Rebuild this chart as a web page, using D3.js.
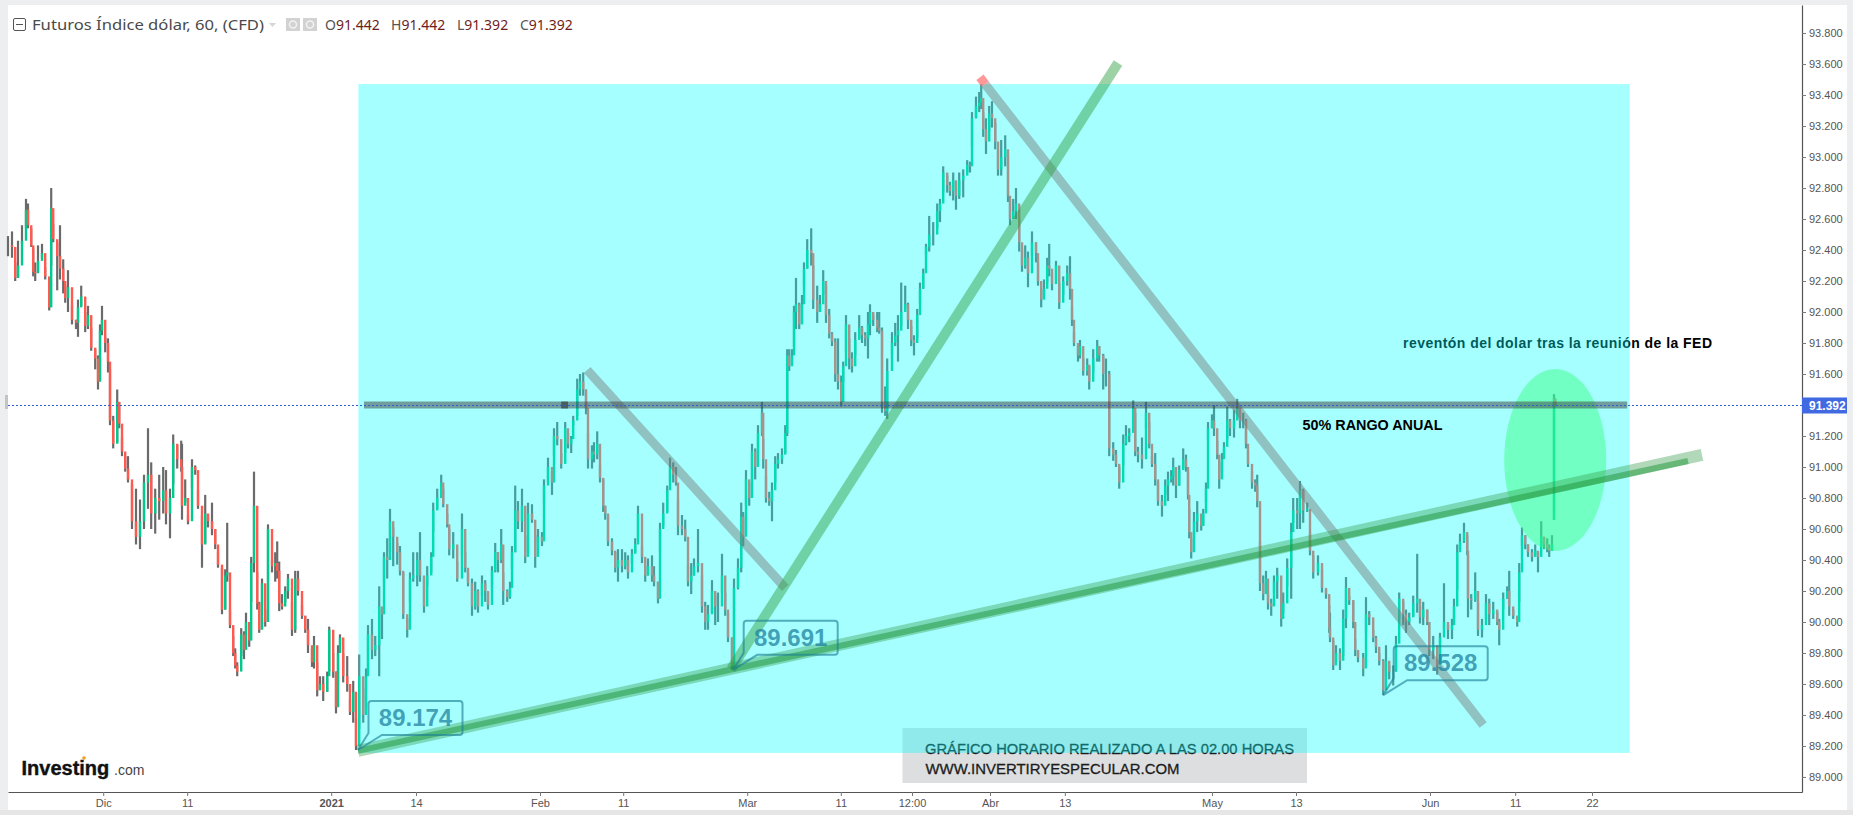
<!DOCTYPE html>
<html>
<head>
<meta charset="utf-8">
<script src="https://cdn.jsdelivr.net/npm/d3@7"></script>
<style>
  html, body { margin: 0; padding: 0; background: #fff; overflow: hidden; }
  text { font-family: "Liberation Sans", Arial, sans-serif; }
</style>
</head>
<body>
<div id="chart"></div>
<script>
// hourly bars: [hour, high, low, close]
const novBars = [
[0,92.49,92.36,92.43],[10,92.52,92.35,92.42],[18,92.32,92.20,92.22],[25,92.46,92.22,92.30],[35,92.56,92.44,92.46],
[45,92.73,92.54,92.66],[50,92.70,92.54,92.56],[58,92.54,92.42,92.43],[63,92.41,92.23,92.26],[68,92.32,92.20,92.25],
[75,92.43,92.26,92.33],[85,92.44,92.35,92.38],[93,92.29,92.21,92.23],[103,92.09,92.01,92.03],[108,92.80,92.30,92.67],
[113,92.57,92.45,92.47],[123,92.45,92.14,92.36],[130,92.56,92.21,92.28],[138,92.34,92.12,92.20],[143,92.17,92.06,92.09],
[150,92.27,92.00,92.16],[160,92.04,91.92,91.95],[170,91.95,91.89,91.93],[175,92.08,91.84,92.03],[183,92.17,92.04,92.10],
[193,92.00,91.87,91.91],[200,92.04,91.89,91.98],[208,91.90,91.75,91.77],[218,91.76,91.63,91.70],[225,91.72,91.50,91.55],
[230,91.92,91.57,91.88],[235,92.04,91.85,91.95]];
const decBars = [
[243,91.84,91.74,91.80],[250,91.83,91.61,91.68],[255,91.63,91.27,91.30],[263,91.33,91.12,91.15],[273,91.50,91.16,91.42],
[278,91.42,91.25,91.28],[285,91.19,91.07,91.10],[293,91.07,90.97,90.99],[300,91.07,90.90,90.92],[310,90.89,90.60,90.65],
[320,90.86,90.50,90.55],[330,90.79,90.47,90.65],[340,90.95,90.60,90.90],[350,91.25,90.73,90.95],[358,91.03,90.60,90.70],
[368,90.86,90.57,90.80],[378,90.95,90.66,90.78],[388,91.00,90.70,90.85],[395,90.98,90.63,90.70],[405,90.86,90.54,90.80],
[413,91.21,90.89,91.15],[423,91.14,90.99,91.05],[433,91.17,90.97,91.00],[435,91.15,90.66,90.75],[443,90.92,90.77,90.80],
[450,90.69,90.63,90.65],[460,91.05,90.86,91.00],[468,91.01,90.95,90.98],[475,90.85,90.73,90.75],[485,90.69,90.35,90.50],
[493,90.82,90.51,90.70],[500,90.68,90.61,90.65],[510,90.77,90.56,90.60],[518,90.60,90.47,90.50],[525,90.45,90.35,90.37],
[535,90.35,90.05,90.08],[543,90.34,90.08,90.30],[548,90.64,90.26,90.32],[555,90.08,89.96,89.98],[563,89.91,89.78,89.80],
[568,89.83,89.70,89.72],[573,89.74,89.65,89.68],[583,89.96,89.78,89.92],[590,89.94,89.76,89.82],[595,90.06,89.91,90.00],
[603,89.98,89.84,89.88],[608,90.42,90.13,90.38],[615,90.97,90.32,90.75],[623,90.32,90.08,90.12],[628,90.13,89.93,89.95],
[635,90.28,90.11,90.25],[643,90.08,89.97,90.00],[650,90.63,90.26,90.60],[660,90.40,90.32,90.36],[668,90.45,90.26,90.38],
[673,90.52,90.28,90.33],[678,90.39,90.07,90.12],[685,90.18,90.08,90.10],[693,90.23,90.13,90.20],[700,90.31,90.15,90.28],
[710,90.13,89.91,89.95],[718,90.33,89.93,90.28],[725,90.33,90.17,90.20],[735,90.11,90.02,90.04],[743,90.04,89.93,89.95],
[750,90.02,89.80,89.85],[760,89.83,89.71,89.74],[765,89.91,89.70,89.85],[773,89.74,89.52,89.56],[780,89.65,89.56,89.60],
[788,89.65,89.49,89.55],[798,89.68,89.55,89.65],[803,89.97,89.68,89.95]];
const janBars = [
[813,89.80,89.64,89.68],[820,89.68,89.41,89.45],[825,89.85,89.59,89.80],[830,89.92,89.85,89.90],[838,89.80,89.61,89.65],
[848,89.78,89.55,89.60],[855,89.50,89.40,89.42],[863,89.62,89.35,89.55],[870,89.38,89.174,89.20],[878,89.79,89.31,89.65],
[888,89.57,89.35,89.40],[895,89.70,89.46,89.65],[900,89.98,89.68,89.92],[910,90.02,89.76,89.82],[918,89.91,89.78,89.85],
[928,90.23,89.65,90.10],[935,90.08,89.89,90.05],[940,90.45,90.26,90.42],[948,90.54,90.28,90.40],[955,90.73,90.45,90.65],
[963,90.61,90.36,90.55],[973,90.51,90.37,90.45],[980,90.49,90.30,90.33],[988,90.32,90.02,90.05],[998,90.02,89.90,89.95],
[1005,90.32,90.13,90.28],[1013,90.45,90.26,90.30],[1023,90.45,90.23,90.40],[1030,90.58,90.26,90.30],[1040,90.28,90.06,90.10],
[1048,90.36,90.23,90.30],[1058,90.45,90.32,90.42],[1063,90.77,90.58,90.72],[1073,90.86,90.73,90.80],[1083,90.95,90.82,90.90],
[1088,90.86,90.74,90.76],[1098,90.70,90.61,90.63],[1103,90.60,90.43,90.47],[1113,90.58,90.41,90.50],[1123,90.39,90.26,90.28],
[1135,90.70,90.43,90.60],[1143,90.45,90.32,90.35],[1150,90.32,90.23,90.25],[1160,90.28,90.04,90.10],[1168,90.26,90.08,90.20],
[1175,90.21,90.06,90.10],[1185,90.30,90.17,90.25],[1193,90.27,90.13,90.20],[1200,90.19,90.08,90.11],[1210,90.36,90.23,90.33],
[1218,90.51,90.32,90.45],[1225,90.45,90.32,90.40],[1233,90.60,90.38,90.50],[1238,90.32,90.11,90.20],[1248,90.21,90.13,90.16],
[1255,90.26,90.15,90.22],[1260,90.49,90.34,90.45],[1268,90.88,90.45,90.72],[1275,90.78,90.60,90.65],[1285,90.86,90.58,90.75],
[1293,90.56,90.38,90.42],[1300,90.77,90.45,90.70],[1310,90.76,90.64,90.66],[1318,90.56,90.35,90.42],[1325,90.60,90.51,90.55]];
const febBars = [
[1335,90.58,90.49,90.52],[1340,90.92,90.77,90.88],[1350,91.06,90.90,91.00],[1360,90.97,90.82,90.90],[1365,91.25,91.07,91.20],
[1373,91.29,91.14,91.18],[1383,91.09,90.99,91.02],[1393,91.29,91.09,91.25],[1400,91.22,91.12,91.15],[1408,91.20,91.09,91.18],
[1413,91.33,91.27,91.30],[1423,91.57,91.33,91.50],[1430,91.60,91.46,91.55],[1438,91.61,91.46,91.50],[1445,91.50,91.34,91.38],
[1450,91.22,90.99,91.05],[1460,91.14,90.99,91.10],[1465,91.16,91.03,91.08],[1473,91.23,91.05,91.15],[1480,91.01,90.90,90.93],
[1488,90.92,90.71,90.75],[1493,90.75,90.66,90.70],[1500,90.69,90.49,90.52],[1510,90.54,90.43,90.46],[1518,90.45,90.32,90.35],
[1525,90.47,90.26,90.40],[1535,90.47,90.32,90.36],[1543,90.45,90.34,90.40],[1550,90.43,90.28,90.32],[1560,90.47,90.38,90.44],
[1568,90.54,90.45,90.50],[1575,90.75,90.54,90.70],[1585,90.49,90.38,90.42],[1593,90.36,90.26,90.30],[1600,90.41,90.30,90.36],
[1610,90.43,90.26,90.30],[1615,90.36,90.23,90.26],[1625,90.26,90.12,90.15],[1630,90.64,90.45,90.60],[1638,90.77,90.62,90.70],
[1648,90.88,90.71,90.85],[1655,91.06,90.90,91.00],[1663,91.03,90.90,90.95],[1670,91.00,90.88,90.90],[1675,90.79,90.56,90.62],
[1685,90.69,90.56,90.60],[1693,90.66,90.52,90.55],[1700,90.36,90.23,90.26],[1708,90.38,90.18,90.30],[1715,90.41,90.30,90.36],
[1725,90.60,90.32,90.38],[1735,90.30,90.06,90.10],[1743,90.13,89.95,90.00],[1750,90.11,89.95,90.05],[1760,90.27,90.06,90.20],
[1768,90.17,89.98,90.10],[1775,90.19,90.00,90.10],[1785,90.44,90.19,90.30],[1793,90.19,90.04,90.08],[1800,90.06,89.87,89.90],
[1810,89.90,89.691,89.72],[1815,90.28,89.70,90.22],[1825,90.41,90.21,90.35],[1833,90.77,90.32,90.68],[1838,90.71,90.49,90.55],
[1845,90.98,90.75,90.92]];
const marBars = [
[1853,90.90,90.75,90.80],[1860,91.15,90.92,91.10],[1868,91.12,90.92,91.00],[1875,91.27,91.09,91.22],[1885,91.42,91.20,91.35],
[1888,91.18,90.99,91.05],[1895,90.94,90.77,90.80],[1903,90.84,90.75,90.78],[1910,90.90,90.65,90.85],[1918,91.07,90.90,91.02],
[1925,91.09,90.99,91.05],[1935,91.12,91.02,91.08],[1943,91.27,91.09,91.22],[1948,91.76,91.20,91.72],[1953,91.76,91.62,91.65],
[1960,91.76,91.68,91.72],[1965,92.04,91.78,92.00],[1970,92.22,91.89,92.05],[1978,92.06,91.89,91.92],[1985,92.11,92.02,92.05],
[1990,92.32,92.17,92.28],[1998,92.47,92.28,92.40],[2008,92.54,92.30,92.38],[2013,92.30,92.02,92.08],[2023,92.17,91.93,92.00],
[2030,92.11,92.00,92.05],[2038,92.27,92.11,92.20],[2045,92.17,91.93,91.98],[2053,92.02,91.83,91.86],[2060,91.87,91.78,91.81],
[2068,91.83,91.55,91.60],[2075,91.83,91.50,91.55],[2083,91.59,91.39,91.42],[2088,91.68,91.55,91.65],[2095,91.98,91.74,91.92],
[2103,91.83,91.63,91.70],[2110,91.74,91.61,91.65],[2118,91.87,91.72,91.82],[2128,91.98,91.83,91.90],[2135,91.91,91.80,91.85],
[2143,91.87,91.78,91.83],[2150,92.00,91.70,91.92],[2155,92.05,91.85,92.00],[2163,91.98,91.91,91.95],[2173,92.00,91.87,91.90],
[2178,92.00,91.86,91.88],[2185,91.90,91.35,91.42],[2193,91.52,91.33,91.36],[2198,91.70,91.31,91.62],[2210,91.87,91.72,91.80],
[2218,91.93,91.78,91.85],[2225,91.98,91.68,91.88],[2233,92.19,91.91,92.00],[2243,92.17,92.02,92.05],[2250,92.06,91.89,91.95],
[2258,91.91,91.78,91.82],[2265,91.85,91.72,91.80],[2273,92.02,91.83,91.98],[2280,92.19,92.06,92.15],[2288,92.28,92.15,92.25],
[2295,92.44,92.37,92.42],[2303,92.62,92.39,92.50],[2313,92.58,92.43,92.50],[2323,92.70,92.54,92.65],[2330,92.73,92.58,92.70],
[2338,92.94,92.77,92.90],[2348,92.88,92.77,92.82],[2355,92.84,92.75,92.78],[2363,92.90,92.72,92.85],[2370,92.84,92.66,92.75],
[2378,92.90,92.73,92.85],[2388,92.92,92.74,92.88],[2398,92.98,92.90,92.95],[2405,92.97,92.90,92.94],[2410,93.29,93.07,93.25],
[2420,93.39,93.25,93.33],[2428,93.42,93.29,93.35],[2433,93.47,93.31,93.38],[2438,93.29,93.13,93.18],[2445,93.25,93.02,93.10],
[2453,93.33,93.17,93.28]];
const aprBars = [
[2460,93.36,93.19,93.25],[2468,93.22,93.05,93.10],[2475,93.05,92.88,92.92],[2483,93.11,92.88,93.00],[2493,93.14,92.94,93.05],
[2500,93.01,92.71,92.75],[2505,92.71,92.56,92.60],[2513,92.73,92.60,92.65],[2520,92.80,92.60,92.70],[2528,92.60,92.39,92.45],
[2535,92.41,92.26,92.30],[2543,92.43,92.28,92.35],[2550,92.39,92.16,92.25],[2560,92.52,92.36,92.45],[2570,92.45,92.32,92.38],
[2575,92.32,92.17,92.20],[2583,92.15,92.03,92.08],[2590,92.21,92.11,92.15],[2598,92.35,92.19,92.30],[2603,92.44,92.23,92.28],
[2610,92.26,92.14,92.18],[2620,92.33,92.21,92.30],[2628,92.19,92.02,92.06],[2638,92.23,92.11,92.20],[2648,92.30,92.17,92.25],
[2655,92.36,92.08,92.15],[2660,92.04,91.91,91.95],[2665,91.87,91.78,91.80],[2675,91.78,91.68,91.72],[2680,91.82,91.70,91.78],
[2688,91.70,91.59,91.62],[2698,91.70,91.59,91.66],[2703,91.65,91.50,91.55],[2713,91.76,91.61,91.70],[2723,91.82,91.68,91.78],
[2728,91.78,91.68,91.72],[2738,91.73,91.50,91.60],[2745,91.70,91.52,91.60],[2753,91.62,91.07,91.12],[2763,91.16,91.04,91.08],
[2770,91.11,91.00,91.02],[2778,91.00,90.86,90.90],[2788,91.21,91.01,91.15],[2795,91.27,91.14,91.20],[2803,91.25,91.16,91.22],
[2813,91.43,91.30,91.38],[2818,91.35,91.07,91.10],[2825,91.13,91.03,91.08],[2835,91.19,90.99,91.05],[2845,91.42,91.25,91.35],
[2853,91.29,91.12,91.15],[2860,91.07,91.00,91.02],[2868,91.09,90.88,90.92],[2875,90.90,90.75,90.78],[2885,90.82,90.68,90.75],
[2893,90.92,90.82,90.88],[2900,90.97,90.78,90.92],[2908,90.98,90.90,90.94],[2913,91.06,90.88,91.00],[2920,90.97,90.80,90.88],
[2928,91.01,90.88,90.98],[2938,91.12,90.99,91.05],[2945,91.08,90.97,91.00],[2950,90.97,90.79,90.82],[2953,90.73,90.54,90.58],
[2958,90.54,90.41,90.45],[2965,90.71,90.54,90.65],[2973,90.78,90.58,90.70],[2983,90.66,90.59,90.62],[2988,90.73,90.62,90.70],
[2995,90.90,90.77,90.86],[3000,91.29,91.18,91.25]];
const mayBars = [
[3010,91.34,91.25,91.30],[3015,91.40,91.20,91.25],[3023,91.17,91.05,91.08],[3028,91.03,90.86,90.92],[3035,91.09,90.97,91.05],
[3040,91.16,91.07,91.13],[3048,91.39,91.18,91.30],[3055,91.31,91.20,91.25],[3065,91.37,91.19,91.30],[3073,91.44,91.31,91.38],
[3080,91.37,91.25,91.30],[3088,91.35,91.25,91.30],[3095,91.31,91.12,91.15],[3100,91.11,91.00,91.02],[3110,90.97,90.86,90.90],
[3118,90.92,90.84,90.88],[3123,90.95,90.74,90.78],[3130,90.52,90.20,90.25],[3138,90.30,90.14,90.18],[3145,90.33,90.19,90.28],
[3150,90.19,90.08,90.12],[3158,90.15,90.04,90.10],[3165,90.30,90.19,90.26],[3173,90.35,90.15,90.30],[3183,90.17,89.97,90.02],
[3188,90.19,90.06,90.12],[3198,90.41,90.23,90.35],[3208,90.64,90.15,90.58],[3213,90.80,90.64,90.72],[3223,90.80,90.60,90.70],
[3230,90.91,90.60,90.85],[3238,90.86,90.64,90.72],[3248,90.77,90.71,90.73],[3255,90.58,90.43,90.46],[3263,90.43,90.28,90.32],
[3275,90.43,90.30,90.38],[3285,90.34,90.19,90.22],[3295,90.21,90.15,90.18],[3303,90.11,89.93,89.96],[3305,90.06,89.87,89.90],
[3313,89.88,89.69,89.72],[3320,89.85,89.74,89.80],[3330,89.83,89.69,89.75],[3338,90.08,89.78,90.02],[3345,90.29,89.96,90.22],
[3353,90.17,90.11,90.14],[3363,90.14,89.96,90.00],[3368,89.89,89.78,89.82],[3375,89.81,89.74,89.77],[3388,89.80,89.65,89.70],
[3395,90.16,89.93,90.05],[3403,90.07,89.98,90.03],[3413,89.95,89.87,89.90],[3420,89.91,89.80,89.84],[3428,89.80,89.72,89.75],
[3438,89.76,89.528,89.56],[3445,89.85,89.65,89.75],[3453,89.72,89.63,89.68],[3463,89.72,89.59,89.68],[3470,89.91,89.68,89.86],
[3478,90.19,90.02,90.15],[3488,90.13,89.98,90.05],[3495,90.08,89.93,90.00],[3503,90.06,89.98,90.03],[3513,90.17,90.04,90.12],
[3523,90.44,90.06,90.15],[3530,90.10,89.99,90.03],[3538,90.13,89.98,90.08],[3548,90.08,89.98,90.00]];
const junBars = [
[3553,90.00,89.78,89.82],[3563,89.91,89.76,89.85],[3573,89.85,89.66,89.72],[3580,89.93,89.80,89.90],[3590,90.25,89.96,90.00],
[3600,89.98,89.89,89.95],[3610,90.02,89.89,89.98],[3615,90.15,89.98,90.10],[3623,90.50,90.21,90.45],[3630,90.57,90.47,90.52],
[3640,90.64,90.51,90.58],[3648,90.56,90.43,90.46],[3650,90.43,90.03,90.15],[3658,90.18,90.08,90.14],[3668,90.32,90.13,90.20],
[3675,90.13,89.91,89.95],[3685,90.02,89.90,89.98],[3695,90.18,90.02,90.12],[3703,90.15,89.98,90.05],[3713,90.13,90.02,90.08],
[3723,90.06,89.98,90.00],[3728,90.02,89.85,89.95],[3738,90.19,90.08,90.15],[3748,90.23,90.15,90.20],[3753,90.33,90.04,90.10],
[3763,90.08,90.02,90.04],[3773,90.04,89.97,90.00],[3778,90.38,90.13,90.32],[3785,90.61,90.49,90.56],[3793,90.56,90.47,90.50],
[3800,90.50,90.42,90.45],[3810,90.47,90.39,90.42],[3818,90.50,90.43,90.46],[3825,90.45,90.32,90.42],[3833,90.65,90.49,90.55],
[3840,90.55,90.47,90.50],[3848,90.54,90.45,90.48],[3853,90.50,90.42,90.46],[3860,90.56,90.46,90.50],[3865,91.47,90.66,91.44,90.66],
[3868,91.442,91.392,91.392]];

// axis labels
const yTickValues = [89.0,89.2,89.4,89.6,89.8,90.0,90.2,90.4,90.6,90.8,91.0,91.2,91.4,91.6,91.8,92.0,92.2,92.4,92.6,92.8,93.0,93.2,93.4,93.6,93.8];
const xTickHours = [238,448,808,1020,1330,1538,1848,2082,2260,2455,2642,3010,3220,3555,3768,3960];
const xTickLabels = ["Dic","11","2021","14","Feb","11","Mar","11","12:00","Abr","13","May","13","Jun","11","22"];
const lastPrice = 91.392;

// drawings on the chart: hours and prices of the end points
const rangeHours = [876, 4054];
const rangePrices = [89.155, 93.471];
const supportOuterHours = [875, 4235];
const supportOuterPrices = [89.168, 91.078];
const supportInnerHours = [875, 4200];
const supportInnerPrices = [89.168, 91.039];
const rallyHours = [1808, 2775];
const rallyPrices = [89.697, 93.607];
const fallAHours = [1448, 1943];
const fallAPrices = [91.626, 90.220];
const fallBHours = [2443, 3688];
const fallBPrices = [93.47, 89.336];
const fallBTipHours = [2430, 2443];
const fallBTipPrices = [93.515, 93.47];
const midHours = [890, 4048];
const midPrice = 91.40;
const midDarkHours = [1383, 1400];
const bubbleHours = [875, 1813, 3438];
const bubblePrices = [89.174, 89.691, 89.528];
const ohlc = [["O", "91.442"], ["H", "91.442"], ["L", "91.392"], ["C", "91.392"]];

const WIDTH = 1853;
const HEIGHT = 815;

const bars = [].concat(novBars, decBars, janBars, febBars, marBars, aprBars, mayBars, junBars)
  .map((r, i, all) => ({
    hour: r[0], high: r[1], low: r[2], close: r[3],
    open: r[4] !== undefined ? r[4] : (i > 0 ? all[i - 1][3] : r[3])
  }));

const x = d3.scaleLinear().domain([0, 4485]).range([8, 1802]);
const y = d3.scaleLinear().domain([88.903, 93.981]).range([792, 5]);

const svg = d3.select("#chart").append("svg")
  .attr("width", WIDTH)
  .attr("height", HEIGHT)
  .style("display", "block");

// window frame
svg.append("rect").attr("width", WIDTH).attr("height", HEIGHT).attr("fill", "#fff");
const frame = svg.append("g").attr("fill", "#eceef0");
frame.append("rect").attr("width", WIDTH).attr("height", 5);
frame.append("rect").attr("width", 8).attr("height", HEIGHT);
frame.append("rect").attr("x", 1847).attr("width", 6).attr("height", HEIGHT);
frame.append("rect").attr("y", 810).attr("width", WIDTH).attr("height", 5).attr("fill", "#e6e6e6");
svg.append("rect").attr("x", 5).attr("y", 395).attr("width", 3).attr("height", 14).attr("fill", "#c4c4c4");

// candles
const candles = svg.append("g");
candles.selectAll("line.wick").data(bars).enter().append("line")
  .attr("class", "wick")
  .attr("x1", d => x(d.hour)).attr("x2", d => x(d.hour))
  .attr("y1", d => y(d.high)).attr("y2", d => y(d.low))
  .attr("stroke", "#6a6a6a").attr("stroke-width", 2.2);
candles.selectAll("line.body").data(bars).enter().append("line")
  .attr("class", "body")
  .attr("x1", d => x(d.hour)).attr("x2", d => x(d.hour))
  .attr("y1", d => y(d.open)).attr("y2", d => y(d.close))
  .attr("stroke", d => d.close >= d.open ? "#00c98d" : "#ff5a50")
  .attr("stroke-width", 2.4);

// texts and grey box lie under the cyan range
svg.append("text").attr("x", 1403).attr("y", 347.5)
  .attr("textLength", 309).attr("lengthAdjust", "spacing")
  .style("font-size", "14px").style("font-weight", "bold").attr("fill", "#000")
  .text("reventón del dolar tras la reunión de la FED");
svg.append("rect").attr("x", 902.5).attr("y", 728).attr("width", 404.5).attr("height", 55).attr("fill", "#dddee0");
svg.append("text").attr("x", 925).attr("y", 754)
  .attr("textLength", 369).attr("lengthAdjust", "spacingAndGlyphs")
  .style("font-size", "15px").attr("fill", "#1c1c1c").attr("stroke", "#1c1c1c").attr("stroke-width", 0.3)
  .text("GRÁFICO HORARIO REALIZADO A LAS 02.00 HORAS");
svg.append("text").attr("x", 925.5).attr("y", 773.5)
  .attr("textLength", 254).attr("lengthAdjust", "spacingAndGlyphs")
  .style("font-size", "15px").attr("fill", "#1c1c1c").attr("stroke", "#1c1c1c").attr("stroke-width", 0.3)
  .text("WWW.INVERTIRYESPECULAR.COM");

// cyan yearly range
svg.append("rect")
  .attr("x", x(rangeHours[0])).attr("y", y(rangePrices[1]))
  .attr("width", x(rangeHours[1]) - x(rangeHours[0]))
  .attr("height", y(rangePrices[0]) - y(rangePrices[1]))
  .attr("fill", "rgba(0,255,255,0.35)");

// green circle round the last move
svg.append("ellipse")
  .attr("cx", x(3868)).attr("cy", y(91.045)).attr("rx", 51).attr("ry", 91)
  .attr("fill", "rgba(52,255,122,0.45)");

// trend lines
function trend(hours, prices, color, width) {
  svg.append("line")
    .attr("x1", x(hours[0])).attr("y1", y(prices[0]))
    .attr("x2", x(hours[1])).attr("y2", y(prices[1]))
    .attr("stroke", color).attr("stroke-width", width);
}
trend(fallAHours, fallAPrices, "rgba(120,120,120,0.45)", 9);
trend(fallBHours, fallBPrices, "rgba(120,120,120,0.45)", 9);
trend(fallBTipHours, fallBTipPrices, "rgba(255,110,110,0.7)", 9);
trend(rallyHours, rallyPrices, "rgba(50,160,70,0.48)", 10);
trend(supportOuterHours, supportOuterPrices, "rgba(50,155,70,0.38)", 12);
trend(supportInnerHours, supportInnerPrices, "rgba(30,150,55,0.5)", 6);
trend(midHours, [midPrice, midPrice], "rgba(60,60,60,0.5)", 7);
trend(midDarkHours, [midPrice, midPrice], "rgba(40,40,40,0.55)", 7);

// price bubbles
bubbleHours.forEach((h, i) => {
  const ax = x(h), ay = y(bubblePrices[i]);
  const left = ax + 10.5, right = left + 94, top = ay - 49, bottom = ay - 15, r = 3;
  svg.append("path")
    .attr("d", "M" + (left + r) + "," + top + "H" + (right - r) + "Q" + right + "," + top + " " + right + "," + (top + r) +
      "V" + (bottom - r) + "Q" + right + "," + bottom + " " + (right - r) + "," + bottom +
      "H" + (ax + 24) + "L" + ax + "," + ay + "L" + left + "," + (bottom - 2) +
      "V" + (top + r) + "Q" + left + "," + top + " " + (left + r) + "," + top + "Z")
    .attr("fill", "none")
    .attr("stroke", "rgba(30,130,150,0.65)")
    .attr("stroke-width", 2);
  svg.append("text")
    .attr("x", (left + right) / 2).attr("y", ay - 24)
    .attr("text-anchor", "middle")
    .style("font-size", "24px").style("font-weight", "bold")
    .attr("fill", "rgba(30,130,160,0.75)")
    .text(bubblePrices[i].toFixed(3));
});

svg.append("text").attr("x", 1302.5).attr("y", 430)
  .attr("textLength", 140).attr("lengthAdjust", "spacingAndGlyphs")
  .style("font-size", "14.5px").style("font-weight", "bold").attr("fill", "#000")
  .text("50% RANGO ANUAL");

// axes
const yAxis = svg.append("g").attr("transform", "translate(1802,0)")
  .call(d3.axisRight(y).tickValues(yTickValues).tickFormat(d3.format(".3f")).tickSize(4).tickPadding(3).tickSizeOuter(0));
const xAxis = svg.append("g").attr("transform", "translate(0,792)")
  .call(d3.axisBottom(x).tickValues(xTickHours).tickFormat((d, i) => xTickLabels[i]).tickSize(4).tickPadding(3).tickSizeOuter(0));
[yAxis, xAxis].forEach(a => {
  a.select(".domain").attr("stroke", "#555").attr("stroke-width", 1.2);
  a.selectAll(".tick line").attr("stroke", "#777");
  a.selectAll(".tick text").attr("fill", "#555")
    .style("font-family", '"Liberation Sans", Arial, sans-serif').style("font-size", "11px");
});
xAxis.selectAll(".tick text").filter((d, i) => xTickLabels[i] === "2021").style("font-weight", "bold");

// last price line and label
const lastY = Math.round(y(lastPrice)) - 0.5;
svg.append("line")
  .attr("x1", 8).attr("x2", 1802).attr("y1", lastY).attr("y2", lastY)
  .attr("stroke", "#2f5fd8").attr("stroke-dasharray", "2,2");
svg.append("rect").attr("x", 1802).attr("y", lastY - 8).attr("width", 45).attr("height", 16).attr("fill", "#4169e1");
svg.append("text").attr("x", 1809).attr("y", lastY + 4.5)
  .style("font-size", "12px").style("font-weight", "bold").attr("fill", "#fff")
  .text(lastPrice.toFixed(3));

// legend row
const head = svg.append("g");
head.append("rect").attr("x", 13.5).attr("y", 18.5).attr("width", 12).attr("height", 12)
  .attr("rx", 1.5).attr("fill", "none").attr("stroke", "#555");
head.append("line").attr("x1", 16).attr("x2", 23).attr("y1", 24.5).attr("y2", 24.5).attr("stroke", "#555");
head.append("text").attr("x", 32).attr("y", 29.5)
  .style("font-family", '"Noto Sans", sans-serif').style("font-size", "14px").attr("fill", "#4a4a4a")
  .attr("textLength", 232).attr("lengthAdjust", "spacingAndGlyphs")
  .text("Futuros Índice dólar, 60, (CFD)");
head.append("path").attr("d", d3.line()([[269, 23], [276, 23], [272.5, 27]])).attr("fill", "#d5d5d5");
[286, 303].forEach(px => {
  head.append("rect").attr("x", px).attr("y", 18).attr("width", 14).attr("height", 13).attr("fill", "#d2d2d2");
  head.append("circle").attr("cx", px + 7).attr("cy", 24.5).attr("r", 3.5)
    .attr("fill", "none").attr("stroke", "#f2f2f2").attr("stroke-width", 1.5);
});
const ohlcX = [325, 391, 457, 520];
ohlc.forEach((o, i) => {
  const t = head.append("text").attr("x", ohlcX[i]).attr("y", 29.5)
    .style("font-family", '"Noto Sans", sans-serif').style("font-size", "14px");
  t.append("tspan").attr("fill", "#555").text(o[0]);
  t.append("tspan").attr("fill", "#6f1d1b").text(o[1]);
});

// logo
svg.append("text").attr("x", 21.5).attr("y", 775)
  .style("font-size", "20px").style("font-weight", "bold").attr("fill", "#111")
  .attr("stroke", "#111").attr("stroke-width", 0.4)
  .text("Investing");
svg.append("text").attr("x", 114).attr("y", 775)
  .style("font-size", "14px").attr("fill", "#444")
  .text(".com");
svg.append("circle").attr("cx", 84).attr("cy", 758).attr("r", 1.8).attr("fill", "#f39c1f");
</script>
</body>
</html>
